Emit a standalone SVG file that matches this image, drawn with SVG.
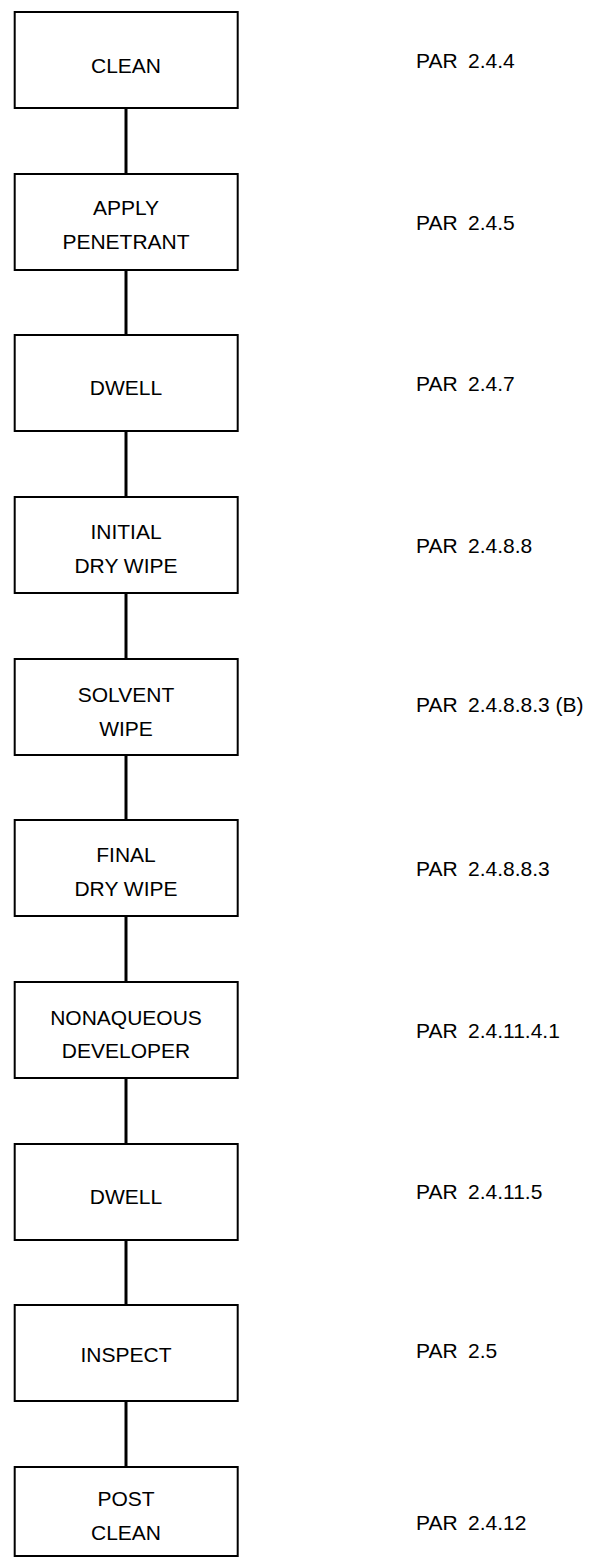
<svg xmlns="http://www.w3.org/2000/svg" width="594" height="1558" viewBox="0 0 594 1558">
<style>
.box{fill:#fff;stroke:#000;stroke-width:2}
.conn{stroke:#000;stroke-width:3;fill:none}
text{font-family:"Liberation Sans",Arial,sans-serif;font-size:21px;fill:#000}
.c{text-anchor:middle}
</style>
<rect width="594" height="1558" fill="#fff"/>
<g id="connectors">
<line class="conn" x1="126" y1="108" x2="126" y2="174"/>
<line class="conn" x1="126" y1="270" x2="126" y2="335"/>
<line class="conn" x1="126" y1="431" x2="126" y2="497"/>
<line class="conn" x1="126" y1="593" x2="126" y2="659"/>
<line class="conn" x1="126" y1="755" x2="126" y2="820"/>
<line class="conn" x1="126" y1="916" x2="126" y2="982"/>
<line class="conn" x1="126" y1="1078" x2="126" y2="1144"/>
<line class="conn" x1="126" y1="1240" x2="126" y2="1305"/>
<line class="conn" x1="126" y1="1401" x2="126" y2="1467"/>
</g>
<g id="n1"><rect class="box" x="14.7" y="12" width="223" height="96"/><text class="c" x="126" y="73">CLEAN</text><text x="416" y="68">PAR</text><text x="468" y="68">2.4.4</text></g>
<g id="n2"><rect class="box" x="14.7" y="174" width="223" height="96"/><text class="c" x="126" y="215">APPLY</text><text class="c" x="126" y="249">PENETRANT</text><text x="416" y="230">PAR</text><text x="468" y="230">2.4.5</text></g>
<g id="n3"><rect class="box" x="14.7" y="335" width="223" height="96"/><text class="c" x="126" y="395">DWELL</text><text x="416" y="391">PAR</text><text x="468" y="391">2.4.7</text></g>
<g id="n4"><rect class="box" x="14.7" y="497" width="223" height="96"/><text class="c" x="126" y="539">INITIAL</text><text class="c" x="126" y="573">DRY WIPE</text><text x="416" y="553">PAR</text><text x="468" y="553">2.4.8.8</text></g>
<g id="n5"><rect class="box" x="14.7" y="659" width="223" height="96"/><text class="c" x="126" y="702">SOLVENT</text><text class="c" x="126" y="736">WIPE</text><text x="416" y="712">PAR</text><text x="468" y="712">2.4.8.8.3 (B)</text></g>
<g id="n6"><rect class="box" x="14.7" y="820" width="223" height="96"/><text class="c" x="126" y="862">FINAL</text><text class="c" x="126" y="896">DRY WIPE</text><text x="416" y="876">PAR</text><text x="468" y="876">2.4.8.8.3</text></g>
<g id="n7"><rect class="box" x="14.7" y="982" width="223" height="96"/><text class="c" x="126" y="1025">NONAQUEOUS</text><text class="c" x="126" y="1058">DEVELOPER</text><text x="416" y="1038">PAR</text><text x="468" y="1038">2.4.11.4.1</text></g>
<g id="n8"><rect class="box" x="14.7" y="1144" width="223" height="96"/><text class="c" x="126" y="1204">DWELL</text><text x="416" y="1199">PAR</text><text x="468" y="1199">2.4.11.5</text></g>
<g id="n9"><rect class="box" x="14.7" y="1305" width="223" height="96"/><text class="c" x="126" y="1362">INSPECT</text><text x="416" y="1358">PAR</text><text x="468" y="1358">2.5</text></g>
<g id="n10"><rect class="box" x="14.7" y="1467" width="223" height="89"/><text class="c" x="126" y="1506">POST</text><text class="c" x="126" y="1540">CLEAN</text><text x="416" y="1530">PAR</text><text x="468" y="1530">2.4.12</text></g>
</svg>
